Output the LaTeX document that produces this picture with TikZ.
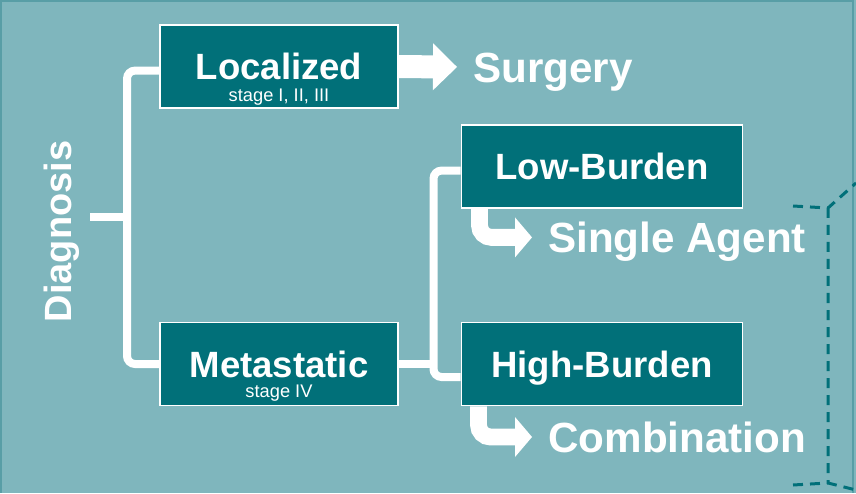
\documentclass[tikz,border=0pt]{standalone}
\usepackage{fontspec}
\setmainfont{Liberation Sans}
\definecolor{dxbg}{RGB}{127,182,189}
\definecolor{dxteal}{RGB}{1,112,121}
\definecolor{dxframe}{RGB}{88,158,166}
\usetikzlibrary{arrows.meta,positioning,calc}

\begin{document}
\begin{tikzpicture}[
  stagebox/.style={draw=white,line width=1.4pt,fill=dxteal,minimum height=2.075cm,
    inner sep=0pt,text=white,font=\fontsize{26}{30}\selectfont\bfseries,
    text height=18.6pt,text depth=0pt},
  stagetext/.style={anchor=base,inner sep=0pt,text=white,font=\fontsize{13}{15}\selectfont},
  actiontext/.style={anchor=west,inner sep=0pt,text=white,font=\fontsize{30}{36}\selectfont\bfseries,
    text height=21.5pt,text depth=0pt},
  bracket/.style={white,line width=0.2cm,rounded corners=0.2cm},
  blockarr/.style={white,line width=0.575cm,-{Triangle[length=0.6cm,width=1.175cm,line width=0pt]}},
  bentarr/.style={white,line width=0.42cm,rounded corners=0.3cm,
    -{Triangle[length=0.425cm,width=1.0cm,line width=0pt]}}
]
  \useasboundingbox (0,0) rectangle (21.4,12.325);
  \fill[dxbg] (0,0) rectangle (21.4,12.325);
  \draw[dxframe,line width=0.05cm] (0.025,0) -- (0.025,12.3) -- (21.325,12.3) -- (21.325,0);
  % Diagnosis split
  \node[rotate=90,inner sep=0pt,text=white,font=\fontsize{27}{32}\selectfont\bfseries,
    text height=19.3pt,text depth=0pt] (diag) at (1.45,6.54) {Diagnosis};
  \coordinate (dxsplit) at (3.2,6.9);
  \coordinate (dxtick) at (2.25,6.9);
  % Stage boxes
  \node[stagebox,minimum width=5.95cm] (loc) at (6.975,10.66) {Localized};
  \node[stagetext] (locstage) at ([yshift=0.2cm]loc.south) {stage I, II, III};
  \node[stagebox,minimum width=5.95cm] (meta) at (6.975,3.225) {Metastatic};
  \node[stagetext] (metastage) at ([yshift=0.22cm]meta.south) {stage IV};
  % Burden boxes
  \node[stagebox,minimum width=7.025cm] (low) at (15.05,8.16) {Low-Burden};
  \node[stagebox,minimum width=7.025cm] (high) at (15.05,3.225) {High-Burden};
  % Treatments
  \node[actiontext] (surg) at (11.825,10.65) {Surgery};
  \node[actiontext] (single) at (13.7,6.39) {Single Agent};
  \node[actiontext] (combo) at (13.7,1.4) {Combination};
  % Brackets
  \draw[bracket] ([yshift=-0.1cm]loc.west) -- ++(-0.8,0) |- (meta.west);
  \draw[bracket] (dxsplit) -- (dxtick);
  \draw[bracket] ([yshift=-0.1cm]low.west) -- ++(-0.675,0) |- ([yshift=-0.325cm]high.west);
  \draw[bracket] (meta.east) -- ++(0.9,0);
  % Arrows
  \draw[blockarr] (loc.east) -- ([xshift=-0.4cm]surg.west);
  \draw[bentarr] ([xshift=0.475cm]low.south west) |- ([xshift=-0.4cm]single.west);
  \draw[bentarr] ([xshift=0.45cm]high.south west) |- ([xshift=-0.4cm]combo.west);
  % Dashed corner
  \draw[dxteal,line width=0.075cm,dash pattern=on 0.25cm off 0.175cm]
    (19.825,7.175) -- (20.7,7.125) -- (21.4,7.75)
    (20.7,7.125) -- (20.7,0.225)
    (19.825,0.2) -- (20.7,0.25) -- (21.4,0.075);
\end{tikzpicture}
\end{document}
